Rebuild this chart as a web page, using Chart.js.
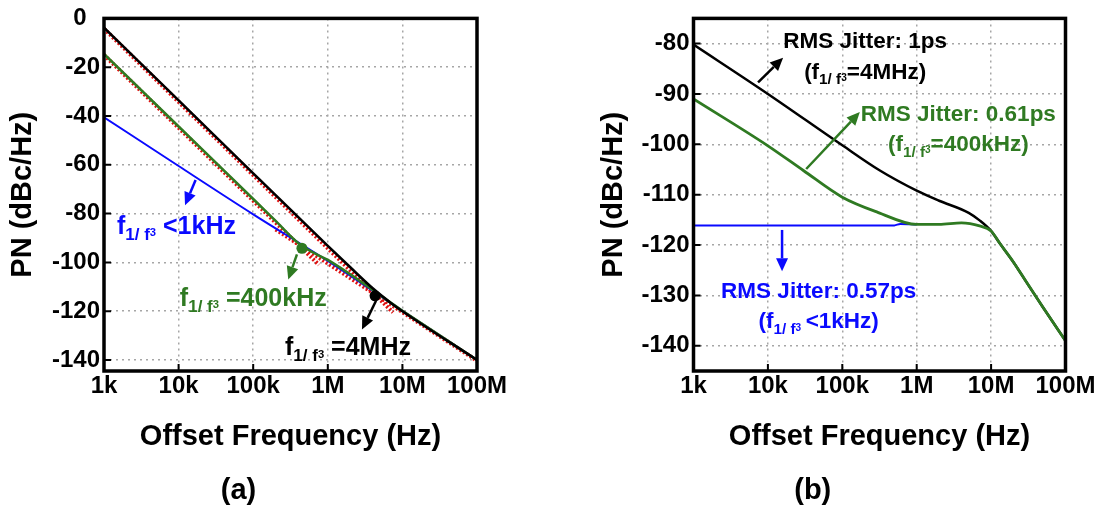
<!DOCTYPE html>
<html>
<head>
<meta charset="utf-8">
<script src="https://cdn.jsdelivr.net/npm/chart.js@4.4.1/dist/chart.umd.min.js"></script>
<style>
  html, body { margin: 0; padding: 0; background: #fff; }
  body { width: 1104px; height: 508px; position: relative; overflow: hidden; }
  canvas { position: absolute; top: 0; }
  #chartA { left: 0; }
  #chartB { left: 560px; }
</style>
</head>
<body>
<canvas id="chartA" width="550" height="508"></canvas>
<canvas id="chartB" width="544" height="508"></canvas>
<script>
// axis ticks
const freqTicks = [1e3, 1e4, 1e5, 1e6, 1e7, 1e8];
const freqLabels = ['1k', '10k', '100k', '1M', '10M', '100M'];
const yTicksA = [0, -20, -40, -60, -80, -100, -120, -140];
const yTicksB = [-80, -90, -100, -110, -120, -130, -140];

// (a) phase noise curves
const aFreqBlack = [1e3, 1e4, 1e5, 1e6, 2e6, 4e6, 7e6, 1e7, 1e8];
const aBlack = [-3.8, -33.6, -63.5, -93.2, -102, -110.6, -116.6, -120, -140];
const aFreqGreen = [1e3, 1e4, 1e5, 2e5, 4e5, 7e5, 1e6, 1e7, 1e8];
const aGreen = [-14.6, -44.3, -74, -83, -92, -96.6, -99, -119.8, -140];
const aFreqBlue = [1e3, 1e4, 1e5, 1e6, 1e7, 1e8];
const aBlue = [-40.5, -60.5, -80.3, -99.4, -119.8, -140];
// (a) red dotted asymptotes
const aFreqRed1 = [1e3, 7.5e6];
const aRed1 = [-4.2, -120.5];
const aFreqRed2 = [1e3, 7.6e5];
const aRed2 = [-15, -101];
const aFreqRed3 = [2e5, 1e8];
const aRed3 = [-86.5, -140.3];
// (a) corner markers
const aFreqCorner = [4.5e5, 4.3e6];
const aCorner = [-94.2, -113.7];

// (b) phase noise curves
const bFreqBlack = [1e3, 1e4, 1e5, 3.2e5, 1e6, 2e6, 5e6, 7e6, 1e7, 1.3e7, 2e7, 3e7, 5e7, 1e8];
const bBlack = [-80.2, -90, -100.2, -105.2, -109.2, -111.2, -113.6, -115.1, -117.2, -119.6, -123.4, -127.4, -132.4, -139];
const bFreqGreen = [1e3, 1e4, 3e4, 1e5, 3e5, 1e6, 2e6, 4e6, 7e6, 1e7, 1.3e7, 2e7, 3e7, 5e7, 1e8];
const bGreen = [-91, -100.3, -105.2, -110.5, -113.5, -115.9, -115.9, -115.6, -116.2, -117.2, -119.6, -123.4, -127.4, -132.4, -139];
const bFreqBlue = [1e3, 5e5, 6e5, 1e6];
const bBlue = [-116.1, -116.1, -115.8, -115.9];

const FAM = "'Liberation Sans', Arial, Helvetica, sans-serif";
const BLACK = '#000000';
const GREEN = '#2f7a22';
const BLUE = '#0a0aff';
const RED = '#e01010';

const sub = ['1/ f', 'sub'];
const sup = ['3', 'sup'];

const aNotes = [
  { color: BLUE, at: [1.49e3, -88.2], align: 'left', size: 25, lines: [['f', sub, sup, ' <1kHz']] },
  { color: GREEN, at: [10.4e3, -117.8], align: 'left', size: 25, lines: [['f', sub, sup, ' =400kHz']] },
  { color: BLACK, at: [267e3, -138], align: 'left', size: 25, lines: [['f', sub, sup, ' =4MHz']] },
];
const aArrows = [
  { color: BLUE, from: [16.9e3, -66.2], to: [12.2e3, -76.6] },
  { color: GREEN, from: [3.86e5, -96.7], to: [2.95e5, -107] },
  { color: BLACK, from: [4.43e6, -115.7], to: [2.87e6, -127.5] },
];
const bNotes = [
  { color: BLACK, at: [203e3, -80.9], align: 'center', size: 22.5,
    lines: [['RMS Jitter: 1ps'], ['(f', sub, sup, '=4MHz)']] },
  { color: GREEN, at: [3.63e6, -95.3], align: 'center', size: 22.5,
    lines: [['RMS Jitter: 0.61ps'], ['(f', sub, sup, '=400kHz)']] },
  { color: BLUE, at: [48.1e3, -130.5], align: 'center', size: 22.5,
    lines: [['RMS Jitter: 0.57ps'], ['(f', sub, sup, '\u2009<1kHz)']] },
];
const bArrows = [
  { color: BLACK, from: [7.38e3, -87.7], to: [16.0e3, -82.8] },
  { color: GREEN, from: [32.7e3, -104.9], to: [172e3, -93.6] },
  { color: BLUE, from: [15.5e3, -117.0], to: [15.5e3, -125.2] },
];

const pts = (xs, ys) => xs.map((x, i) => ({ x: x, y: ys[i] }));

function curve(xs, ys, color, width, order) {
  return {
    data: pts(xs, ys), borderColor: color, borderWidth: width,
    pointRadius: 0, fill: false, cubicInterpolationMode: 'monotone', order: order
  };
}
function dotted(xs, ys, order) {
  return {
    data: pts(xs, ys), borderColor: RED, borderWidth: 4, borderDash: [2, 2],
    pointRadius: 0, fill: false, tension: 0, order: order
  };
}

function drawRich(ctx, parts, x, y, align, size) {
  const sizes = { main: size, sub: size * 0.68, sup: size * 0.45 };
  const dys = { main: 0, sub: size * 0.25, sup: size * 0.1 };
  const items = parts.map(p => Array.isArray(p) ? { t: p[0], k: p[1] } : { t: p, k: 'main' });
  let total = 0;
  items.forEach(it => {
    ctx.font = `bold ${sizes[it.k]}px ${FAM}`;
    it.w = ctx.measureText(it.t).width;
    total += it.w;
  });
  let cx = align === 'center' ? x - total / 2 : x;
  items.forEach(it => {
    ctx.font = `bold ${sizes[it.k]}px ${FAM}`;
    ctx.fillText(it.t, cx, y + dys[it.k]);
    cx += it.w;
  });
}

function drawArrow(ctx, x1, y1, x2, y2, color) {
  const ang = Math.atan2(y2 - y1, x2 - x1);
  const L = 13, W = 6;
  const bx = x2 - L * Math.cos(ang), by = y2 - L * Math.sin(ang);
  ctx.strokeStyle = color;
  ctx.fillStyle = color;
  ctx.lineWidth = 2.5;
  ctx.beginPath();
  ctx.moveTo(x1, y1);
  ctx.lineTo(bx, by);
  ctx.stroke();
  ctx.beginPath();
  ctx.moveTo(x2, y2);
  ctx.lineTo(bx + W * Math.sin(ang), by - W * Math.cos(ang));
  ctx.lineTo(bx - W * Math.sin(ang), by + W * Math.cos(ang));
  ctx.closePath();
  ctx.fill();
}

// frame, inward tick marks and annotations
function makeDecor(notes, arrows) {
  return {
    id: 'decor',
    afterDatasetsDraw(chart) {
      const { ctx, chartArea: a, scales: { x, y } } = chart;
      ctx.save();
      ctx.strokeStyle = '#000';
      ctx.lineWidth = 2;
      ctx.beginPath();
      x.ticks.forEach(t => {
        const px = x.getPixelForValue(t.value);
        ctx.moveTo(px, a.bottom);
        ctx.lineTo(px, a.bottom - 7);
      });
      y.ticks.forEach(t => {
        const py = y.getPixelForValue(t.value);
        ctx.moveTo(a.left, py);
        ctx.lineTo(a.left + 7, py);
      });
      ctx.stroke();
      ctx.lineWidth = 3.5;
      ctx.strokeRect(a.left, a.top, a.right - a.left, a.bottom - a.top);

      arrows.forEach(ar => {
        drawArrow(ctx,
          x.getPixelForValue(ar.from[0]), y.getPixelForValue(ar.from[1]),
          x.getPixelForValue(ar.to[0]), y.getPixelForValue(ar.to[1]), ar.color);
      });
      ctx.textBaseline = 'alphabetic';
      ctx.textAlign = 'left';
      notes.forEach(n => {
        ctx.fillStyle = n.color;
        const px = x.getPixelForValue(n.at[0]);
        const py = y.getPixelForValue(n.at[1]);
        n.lines.forEach((line, i) => drawRich(ctx, line, px, py + i * 30.5, n.align, n.size));
      });
      ctx.restore();
    }
  };
}

const tickFont = { family: FAM, size: 24, weight: 'bold' };
const titleFont = { family: FAM, size: 29, weight: 'bold' };

function buildOptions(c) {
  const grid = { color: '#a6a6a6', lineWidth: 1.5, drawTicks: false };
  const border = { display: false, dash: [2, 4] };
  return {
    responsive: false,
    animation: false,
    devicePixelRatio: 1,
    layout: { padding: { top: c.padTop, right: c.padRight, left: 0, bottom: 0 } },
    plugins: {
      legend: { display: false },
      tooltip: { enabled: false },
      title: {
        display: true, text: c.tag, position: 'bottom', color: '#000',
        font: titleFont, padding: { top: 0, bottom: 0 }
      }
    },
    scales: {
      x: {
        type: 'logarithmic', min: 1e3, max: 1e8,
        afterBuildTicks: s => { s.ticks = freqTicks.map(v => ({ value: v })); },
        afterFit: s => { s.height = 102.2; },
        ticks: {
          color: '#000', font: tickFont, padding: 1, maxRotation: 0, autoSkip: false,
          callback: v => freqLabels[freqTicks.indexOf(v)]
        },
        grid: grid, border: border,
        title: { display: true, text: 'Offset Frequency (Hz)', color: '#000', font: titleFont, padding: { top: 0, bottom: 18.8 } }
      },
      y: {
        min: c.yMin, max: c.yMax,
        afterBuildTicks: s => { s.ticks = c.yTicks.map(v => ({ value: v })); },
        afterFit: s => { s.width = c.yWidth; },
        ticks: {
          color: '#000', font: tickFont, padding: 4,
          callback: v => v === 0 ? '0  ' : String(v)
        },
        grid: grid, border: border,
        title: { display: true, text: 'PN (dBc/Hz)', color: '#000', font: titleFont, padding: { top: c.yTitlePad, bottom: 0 } }
      }
    }
  };
}

new Chart(document.getElementById('chartA'), {
  type: 'line',
  data: {
    datasets: [
      { data: pts(aFreqCorner.slice(0, 1), aCorner.slice(0, 1)), showLine: false, pointRadius: 5.5,
        pointBackgroundColor: GREEN, pointBorderWidth: 0, order: 0 },
      { data: pts(aFreqCorner.slice(1), aCorner.slice(1)), showLine: false, pointRadius: 5.5,
        pointBackgroundColor: BLACK, pointBorderWidth: 0, order: 0 },
      curve(aFreqBlack, aBlack, BLACK, 2.6, 1),
      curve(aFreqGreen, aGreen, GREEN, 2.6, 2),
      curve(aFreqBlue, aBlue, BLUE, 2, 3),
      dotted(aFreqRed1, aRed1, 4),
      dotted(aFreqRed2, aRed2, 4),
      dotted(aFreqRed3, aRed3, 4)
    ]
  },
  options: buildOptions({
    tag: '(a)', yMin: -144.5, yMax: 0, yTicks: yTicksA, yWidth: 104,
    yTitlePad: 5.6, padTop: 14, padRight: 73
  }),
  plugins: [makeDecor(aNotes, aArrows)]
});

new Chart(document.getElementById('chartB'), {
  type: 'line',
  data: {
    datasets: [
      curve(bFreqGreen, bGreen, GREEN, 2.8, 0),
      curve(bFreqBlack, bBlack, BLACK, 2.5, 1),
      curve(bFreqBlue, bBlue, BLUE, 2, 2)
    ]
  },
  options: buildOptions({
    tag: '(b)', yMin: -145, yMax: -75, yTicks: yTicksB, yWidth: 133.5,
    yTitlePad: 36.6, padTop: 15, padRight: 38.5
  }),
  plugins: [makeDecor(bNotes, bArrows)]
});
</script>
</body>
</html>
